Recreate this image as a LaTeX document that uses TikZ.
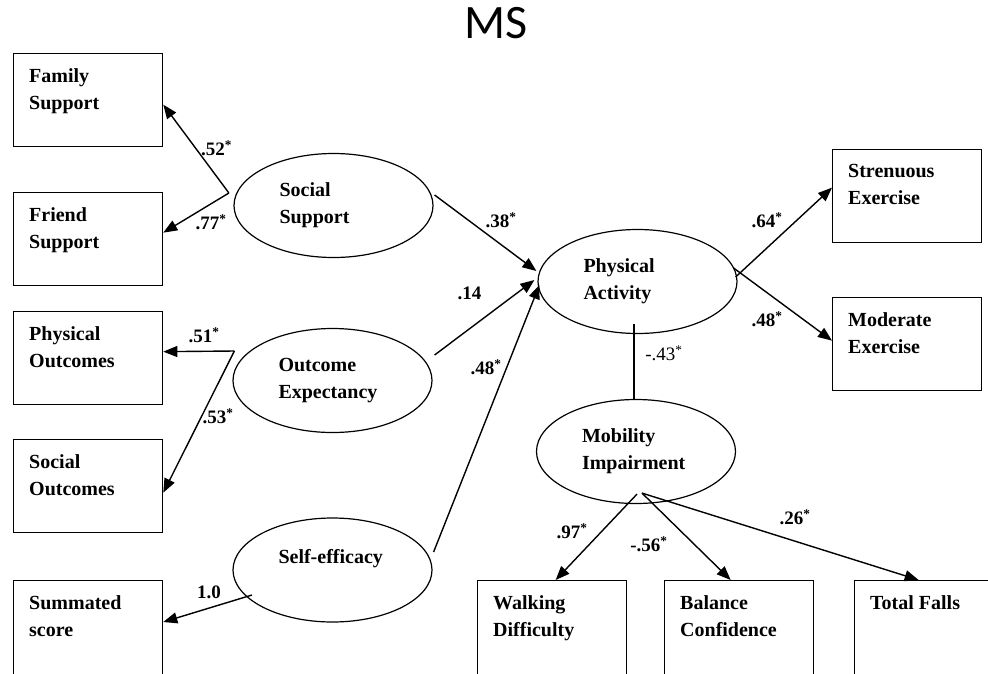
\documentclass[tikz,border=0pt]{standalone}
\usepackage{fontspec}
\setmainfont{Liberation Serif}
\newfontfamily\titlefont{Carlito}
\usetikzlibrary{arrows.meta,shapes.geometric,positioning,calc}

\begin{document}
\begin{tikzpicture}[
  x=1pt, y=-1pt,
  every node/.style={font=\fontsize{20}{27}\selectfont\bfseries},
  obs/.style={draw, line width=1.3pt, anchor=north west, inner sep=0pt,
              minimum width=149pt, minimum height=93pt},
  obstext/.style={anchor=north west, align=left, inner sep=0pt},
  latent/.style={draw, ellipse, line width=1.2pt, inner sep=0pt,
                 minimum width=199pt, minimum height=104pt,
                 text width=108pt, align=left},
  coef/.style={font=\fontsize{19}{22}\selectfont\bfseries, inner sep=1pt},
  arrow/.style={-{Triangle[length=14pt,width=11pt]}, line width=1.4pt},
]
\clip (0,0) rectangle (988,673);

%% Title
\node[font=\titlefont\fontsize{48}{54}\selectfont] (title) at (496.5,23.5) {MS};

%% Observed indicators
\node[obs] (fam) at (13,53)  {};
\node[obs] (fri) at (13,192) {};
\node[obs] (pho) at (13,311) {};
\node[obs] (soo) at (13,439) {};
\node[obs, minimum height=100pt] (sum) at (13,580) {};
\node[obs] (str) at (832,149) {};
\node[obs] (mod) at (832,297) {};
\node[obs, minimum height=100pt] (wal) at (477,580) {};
\node[obs, minimum height=100pt] (bal) at (664,580) {};
\node[obs, minimum height=100pt] (fal) at (854,580) {};

%% Indicator texts
\node[obstext] (famt) at ([shift={(16,15)}]fam.north west) {Family\\Support};
\node[obstext] (frit) at ([shift={(16,15)}]fri.north west) {Friend\\Support};
\node[obstext] (phot) at ([shift={(16,15)}]pho.north west) {Physical\\Outcomes};
\node[obstext] (soot) at ([shift={(16,15)}]soo.north west) {Social\\Outcomes};
\node[obstext] (sumt) at ([shift={(16,15)}]sum.north west) {Summated\\score};
\node[obstext] (strt) at ([shift={(16,15)}]str.north west) {Strenuous\\Exercise};
\node[obstext] (modt) at ([shift={(16,15)}]mod.north west) {Moderate\\Exercise};
\node[obstext] (walt) at ([shift={(16,15)}]wal.north west) {Walking\\Difficulty};
\node[obstext] (balt) at ([shift={(16,15)}]bal.north west) {Balance\\Confidence};
\node[obstext] (falt) at ([shift={(16,15)}]fal.north west) {Total Falls};

%% Latent variables
\node[latent] (ss) at (333.5,205.5) {Social\\Support};
\node[latent] (oe) at (332.5,380.5) {Outcome\\Expectancy};
\node[latent] (se) at (332.5,570)   {Self-efficacy\\\mbox{}};
\node[latent] (pa) at (637.5,281.5) {Physical\\Activity};
\node[latent] (mi) at (636,451.5)   {Mobility\\Impairment};

%% Measurement paths
\coordinate (ssfork) at ([shift={(-4.5,-12.5)}]ss.west);
\coordinate (oefork) at ([shift={(2,-29.5)}]oe.west);
\draw[arrow] (ssfork) -- ([shift={(0,4.5)}]fam.east);
\draw[arrow] (ssfork) -- ([shift={(0,-6.5)}]fri.east);
\draw[arrow] (oefork) -- ([shift={(0,-6.5)}]pho.east);
\draw[arrow] (oefork) -- ([shift={(0,6.5)}]soo.east);
\draw[arrow] ([shift={(-80.5,25)}]se.center) -- ([shift={(0,42)}]sum.north east);
\draw[arrow] ([shift={(-2,-4.5)}]pa.east) -- ([shift={(0,-8.5)}]str.west);
\draw[arrow] ([shift={(-4,-13.5)}]pa.east) -- ([shift={(0,-3.5)}]mod.west);
\draw[arrow] ([shift={(1,-10)}]mi.south) -- ([shift={(3.5,0)}]wal.north);
\draw[arrow] ([shift={(6,-11)}]mi.south) -- ([shift={(-8.5,0)}]bal.north);
\draw[arrow] ([shift={(6,-11)}]mi.south) -- ([shift={(-10.5,0)}]fal.north);

%% Structural paths
\draw[arrow] ([shift={(1,-10.5)}]ss.east) -- ([shift={(-1,-10.5)}]pa.west);
\draw[arrow] ([shift={(2,-25.5)}]oe.east) -- ([shift={(-3,-1.5)}]pa.west);
\draw[arrow] ([shift={(1,-18)}]se.east) -- ([shift={(2,3.5)}]pa.west);
\draw[line width=1.4pt] ([shift={(-3.5,-10)}]pa.south) -- ([shift={(-2,0)}]mi.north);

%% Coefficients
\node[coef] (c52)  at (216.5,148) {.52\textsuperscript{*}};
\node[coef] (c77)  at (211,222)   {.77\textsuperscript{*}};
\node[coef] (c51)  at (204,335)   {.51\textsuperscript{*}};
\node[coef] (c53)  at (218,416)   {.53\textsuperscript{*}};
\node[coef] (c10)  at (209,592)   {1.0};
\node[coef] (c38)  at (501,220)   {.38\textsuperscript{*}};
\node[coef] (c14)  at (469.5,293) {.14};
\node[coef] (c48a) at (486,367)   {.48\textsuperscript{*}};
\node[coef] (c64)  at (767,220)   {.64\textsuperscript{*}};
\node[coef] (c48b) at (767,319)   {.48\textsuperscript{*}};
\node[coef, font=\fontsize{19}{22}\selectfont] (c43) at (664,353) {-.43\textsuperscript{*}};
\node[coef] (c97)  at (572,531)   {.97\textsuperscript{*}};
\node[coef] (c56)  at (649,544)   {-.56\textsuperscript{*}};
\node[coef] (c26)  at (795,517)   {.26\textsuperscript{*}};

\end{tikzpicture}
\end{document}
